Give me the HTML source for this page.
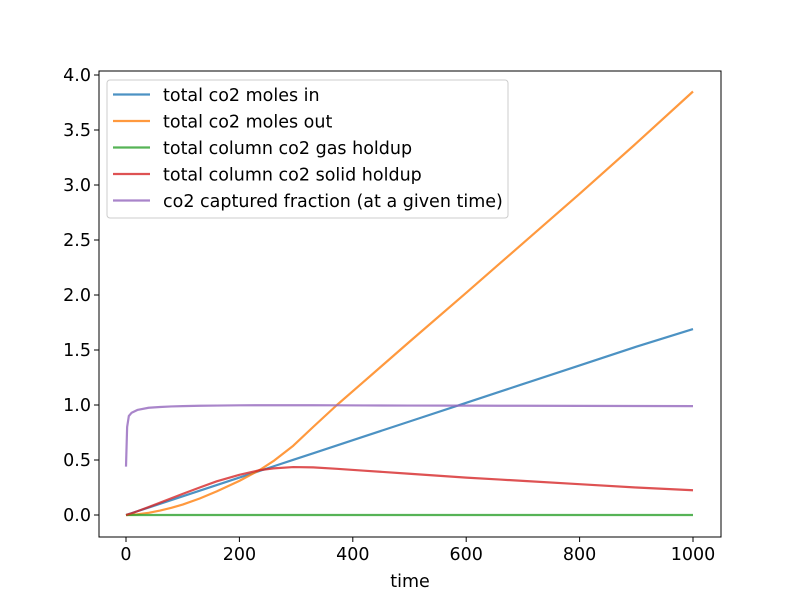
<!DOCTYPE html>
<html><head><meta charset="utf-8"><style>
body{margin:0;background:#fff;}
svg text{font-family:"DejaVu Sans","Liberation Sans",sans-serif;font-size:17.5px;fill:#000;}
</style></head><body>
<svg id="chart" width="800" height="597" xmlns="http://www.w3.org/2000/svg">
<g id="plot"></g>
</svg>
<script>
const times=[0,2,5,10,20,40,60,80,100,130,160,200,236,260,295,330,372,420,500,600,660,700,800,900,1000];
const movesIn=[0,0.0034,0.0085,0.017,0.034,0.068,0.102,0.136,0.17,0.221,0.272,0.34,0.401,0.442,0.502,0.561,0.632,0.714,0.85,1.02,1.122,1.19,1.36,1.53,1.69];
const molesOut=[0,0,0.0005,0.002,0.006,0.02,0.04,0.065,0.095,0.15,0.215,0.31,0.41,0.49,0.63,0.8,1.0,1.215,1.575,2.02,2.29,2.47,2.92,3.38,3.85];
const gasHold=[0,0,0,0,0,0,0,0,0,0,0,0,0,0,0,0,0,0,0,0,0,0,0,0,0];
const solidHold=[0,0.003,0.008,0.016,0.034,0.072,0.112,0.152,0.192,0.25,0.306,0.365,0.408,0.424,0.436,0.433,0.42,0.403,0.375,0.34,0.322,0.31,0.28,0.25,0.225];
const captured=[0.44,0.8,0.9,0.93,0.955,0.975,0.982,0.987,0.99,0.993,0.995,0.997,0.998,0.998,0.998,0.998,0.997,0.996,0.995,0.994,0.993,0.993,0.992,0.991,0.99];
const xTicks=[0,200,400,600,800,1000];
const yTicks=[0,0.5,1.0,1.5,2.0,2.5,3.0,3.5,4.0];
const seriesNames=["total co2 moles in","total co2 moles out","total column co2 gas holdup","total column co2 solid holdup","co2 captured fraction (at a given time)"];
const L=99,R=721,T=71,B=537;
const x=v=>126+v*0.567;
const y=v=>515-v*110;
const NS="http://www.w3.org/2000/svg";
const g=document.getElementById('plot');
function mk(t,a){const e=document.createElementNS(NS,t);for(const k in a)e.setAttribute(k,a[k]);g.appendChild(e);return e;}
const colors=["#1f77b4","#ff7f0e","#2ca02c","#d62728","#9467bd"];
const data=[movesIn,molesOut,gasHold,solidHold,captured];
data.forEach((s,i)=>{
 const p=mk('polyline',{points:s.map((v,j)=>x(times[j])+','+y(v)).join(' '),fill:'none',stroke:colors[i],'stroke-width':2.2,'stroke-opacity':0.8,'stroke-linejoin':'round'});
 
 
});
const fr=mk('rect',{x:L,y:T,width:R-L,height:B-T,fill:'none',stroke:'#000','stroke-width':1});


xTicks.forEach(v=>{
 mk('line',{x1:x(v),x2:x(v),y1:B,y2:B+5,stroke:'#000'});
 const t=mk('text',{x:x(v),y:B+23,'text-anchor':'middle'});t.textContent=v;
 
 
});
yTicks.forEach(v=>{
 mk('line',{x1:L-5,x2:L,y1:y(v),y2:y(v),stroke:'#000'});
 const t=mk('text',{x:L-8,y:y(v)+6,'text-anchor':'end'});t.textContent=v.toFixed(1);
 
 
});
const xt=mk('text',{x:410,y:587,'text-anchor':'middle'});xt.textContent='time';


const lb=mk('rect',{x:107,y:80,width:401,height:138,rx:3,fill:'#fff','fill-opacity':0.8,stroke:'#ccc'});


seriesNames.forEach((n,i)=>{
 const yy=94.5+i*26.5;
 mk('line',{x1:113,x2:150,y1:yy,y2:yy,stroke:colors[i],'stroke-width':2.2,'stroke-opacity':0.8});
 const t=mk('text',{x:163,y:yy+6.5});t.textContent=n;
 
 
});
</script>
</body></html>
